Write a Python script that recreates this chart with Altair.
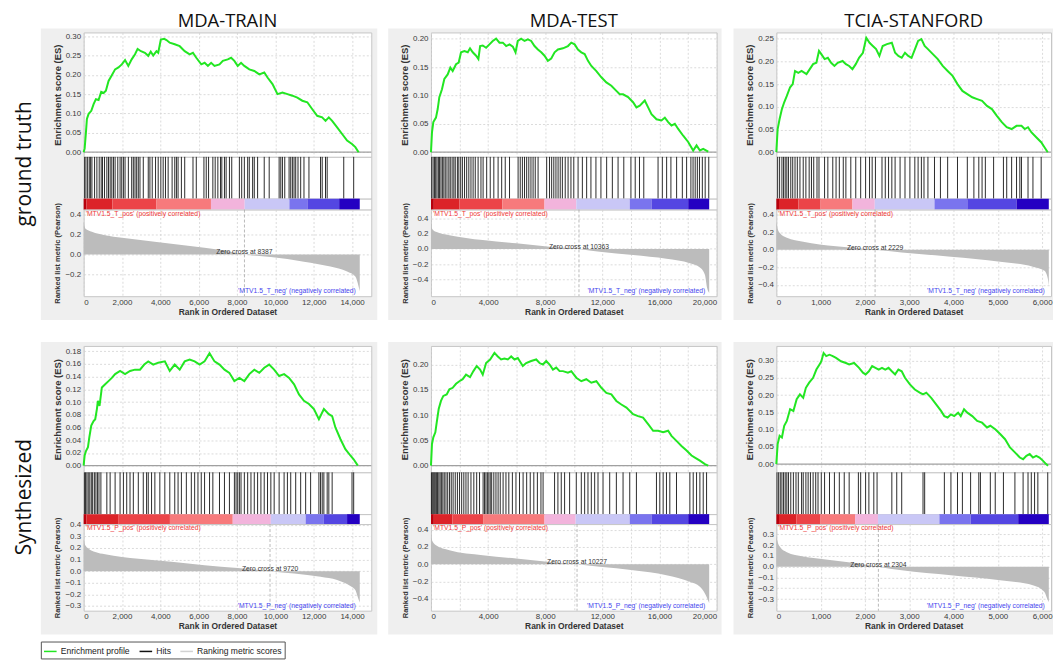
import altair as alt
import pandas as pd

# ------------------------------------------------------------------ data
COL_TITLES = ["MDA-TRAIN", "MDA-TEST", "TCIA-STANFORD"]
ROW_LABELS = ["ground truth", "Synthesized"]
GENE_SET_TAG = ["T", "P"]
N_RANKED = [14400, 19480, 6150]
ZERO_CROSS_R1 = [8387, 10363, 2229]
ZERO_CROSS_R2 = [9720, 10227, 2304]
LEGEND_LABELS = ["Enrichment profile", "Hits", "Ranking metric scores"]

# running enrichment score: (rank, ES)
ES_R1C1 = [(0, 0), (52, .009), (120, .051), (170, .086), (260, .099), (400, .107), (520, .124), (640, .137),
           (780, .135), (915, .156), (1040, .153), (1160, .159), (1300, .184), (1470, .199), (1640, .214),
           (1815, .219), (1990, .227), (2160, .238), (2330, .223), (2505, .240), (2680, .253), (2815, .267),
           (2990, .261), (3195, .257), (3370, .249), (3500, .260), (3630, .250), (3800, .261), (3890, .257),
           (4025, .291), (4200, .293), (4320, .290), (4490, .283), (4750, .279), (5010, .274), (5270, .261),
           (5530, .253), (5700, .257), (5875, .244), (6135, .227), (6310, .231), (6480, .223), (6650, .231),
           (6825, .223), (7085, .227), (7260, .236), (7515, .240), (7690, .244), (7860, .236), (8035, .223),
           (8210, .231), (8380, .223), (8640, .214), (8900, .210), (9160, .201), (9420, .206), (9590, .193),
           (9850, .176), (10110, .150), (10370, .154), (10630, .150), (10885, .146), (11145, .141),
           (11405, .133), (11665, .129), (11925, .111), (12180, .094), (12440, .090), (12615, .081),
           (12785, .090), (12960, .081), (13220, .064), (13480, .047), (13740, .030), (13995, .021),
           (14170, .013), (14340, 0)]
ES_R1C2 = [(0, 0), (70, .035), (165, .053), (350, .061), (470, .076), (585, .097), (770, .111), (935, .129),
           (1170, .137), (1355, .149), (1520, .143), (1755, .155), (1940, .158), (2105, .176), (2340, .178),
           (2575, .176), (2735, .183), (2925, .176), (3160, .170), (3320, .164), (3440, .187), (3625, .188),
           (3860, .184), (4095, .190), (4325, .196), (4560, .200), (4795, .193), (5030, .193), (5265, .187),
           (5500, .190), (5730, .186), (5920, .176), (6080, .196), (6315, .200), (6550, .196), (6785, .199),
           (7015, .196), (7250, .187), (7485, .181), (7720, .176), (7950, .170), (8185, .161), (8420, .165),
           (8655, .176), (8890, .181), (9240, .183), (9590, .187), (9825, .193), (10060, .190), (10290, .181),
           (10525, .176), (10760, .173), (10995, .161), (11230, .152), (11580, .143), (11930, .132),
           (12280, .123), (12630, .117), (12980, .108), (13215, .102), (13450, .102), (13800, .097),
           (14150, .088), (14385, .079), (14620, .082), (14970, .091), (15205, .079), (15440, .067),
           (15790, .058), (16140, .056), (16375, .061), (16610, .053), (16840, .047), (17075, .050),
           (17310, .041), (17660, .029), (18010, .018), (18360, .003), (18595, .012), (18830, .003),
           (19060, .006), (19415, .001)]
ES_R1C3 = [(0, 0), (30, .051), (74, .073), (126, .095), (178, .110), (237, .124), (311, .143), (370, .150),
           (422, .179), (496, .175), (570, .179), (681, .172), (755, .183), (830, .194), (904, .197),
           (963, .223), (1015, .216), (1090, .205), (1163, .208), (1237, .197), (1311, .190), (1385, .197),
           (1496, .201), (1570, .194), (1644, .190), (1718, .183), (1793, .194), (1867, .208), (1955, .219),
           (2030, .252), (2104, .241), (2178, .234), (2252, .227), (2326, .212), (2400, .234), (2496, .238),
           (2607, .241), (2681, .219), (2755, .212), (2830, .208), (2904, .219), (2978, .212), (3052, .208),
           (3140, .230), (3200, .245), (3274, .249), (3348, .234), (3422, .227), (3533, .216), (3644, .205),
           (3755, .190), (3867, .179), (3978, .168), (4089, .150), (4200, .135), (4311, .128), (4422, .121),
           (4533, .117), (4644, .113), (4755, .102), (4866, .095), (4978, .080), (5089, .066), (5200, .055),
           (5311, .051), (5422, .058), (5533, .058), (5607, .051), (5681, .055), (5755, .044), (5866, .033),
           (5978, .022), (6052, .011), (6126, 0)]
ES_R2C1 = [(0, 0), (52, .016), (121, .023), (225, .029), (294, .044), (397, .063), (518, .070), (605, .073),
           (691, .089), (743, .102), (829, .094), (950, .123), (1123, .128), (1296, .133), (1469, .138),
           (1642, .144), (1900, .149), (2160, .144), (2420, .149), (2680, .151), (2940, .151), (3160, .159),
           (3370, .164), (3630, .159), (3890, .162), (4235, .164), (4490, .149), (4750, .159), (5010, .151),
           (5270, .164), (5530, .167), (5790, .164), (6050, .159), (6305, .164), (6565, .177), (6825, .164),
           (7085, .159), (7345, .151), (7600, .146), (7860, .133), (8120, .138), (8380, .133), (8640, .144),
           (8900, .151), (9160, .146), (9420, .154), (9675, .159), (9935, .151), (10195, .141), (10455, .144),
           (10715, .138), (10975, .128), (11230, .112), (11490, .102), (11750, .097), (12010, .089),
           (12270, .073), (12530, .089), (12785, .081), (12960, .078), (13130, .060), (13390, .042),
           (13650, .026), (13910, .016), (14080, .010), (14300, 0)]
ES_R2C2 = [(0, 0), (70, .043), (165, .056), (305, .066), (400, .085), (540, .112), (700, .128), (865, .138),
           (1100, .141), (1290, .151), (1520, .154), (1755, .162), (1990, .167), (2220, .171), (2455, .180),
           (2735, .175), (2970, .187), (3205, .197), (3440, .190), (3625, .180), (3860, .203), (4140, .210),
           (4445, .223), (4680, .216), (4910, .210), (5145, .212), (5380, .210), (5615, .216), (5850, .210),
           (6080, .213), (6430, .197), (6665, .203), (7015, .207), (7370, .210), (7600, .203), (7835, .200),
           (8070, .207), (8305, .200), (8540, .190), (8770, .194), (9005, .187), (9240, .187), (9590, .184),
           (9825, .187), (10175, .174), (10525, .167), (10875, .171), (11225, .164), (11580, .167),
           (11930, .154), (12280, .144), (12630, .141), (12980, .128), (13330, .121), (13685, .115),
           (14150, .102), (14500, .098), (14850, .095), (15205, .082), (15555, .069), (15905, .069),
           (16255, .066), (16605, .069), (16840, .059), (17190, .049), (17540, .039), (17895, .030),
           (18245, .020), (18480, .016), (18830, .010), (19180, .003), (19415, 0)]
ES_R2C3 = [(0, 0), (30, .058), (74, .082), (126, .077), (178, .111), (237, .125), (311, .159), (385, .154),
           (459, .188), (533, .202), (607, .192), (667, .221), (741, .236), (830, .250), (904, .274),
           (978, .289), (1015, .298), (1067, .322), (1126, .313), (1200, .317), (1274, .313), (1348, .308),
           (1459, .298), (1570, .293), (1644, .289), (1755, .293), (1867, .279), (1955, .265), (2015, .260),
           (2089, .269), (2163, .284), (2237, .279), (2311, .274), (2385, .279), (2459, .274), (2533, .279),
           (2607, .269), (2681, .260), (2755, .274), (2830, .269), (2904, .250), (3015, .231), (3126, .216),
           (3237, .207), (3311, .202), (3385, .207), (3496, .192), (3607, .173), (3718, .154), (3792, .139),
           (3867, .135), (3941, .144), (4015, .139), (4104, .149), (4163, .139), (4237, .159), (4311, .149),
           (4422, .139), (4533, .125), (4644, .120), (4755, .106), (4830, .111), (4941, .101), (5052, .087),
           (5163, .072), (5274, .048), (5385, .034), (5496, .019), (5570, .014), (5644, .024), (5718, .029),
           (5792, .019), (5866, .024), (5940, .019), (6015, .010), (6089, 0), (6133, -.005)]

# ranked list metric: (rank, Pearson)
MET_R1C1 = [(0, .33), (86, .26), (430, .227), (1120, .193), (2000, .167), (3700, .127), (5440, .087),
            (7170, .043), (8387, 0), (9760, -.027), (11490, -.073), (12870, -.123), (13740, -.173),
            (14170, -.223), (14340, -.323), (14400, -.37)]
MET_R1C2 = [(0, .38), (70, .27), (350, .225), (1290, .18), (3625, .116), (5965, .073), (8300, .028),
            (10363, 0), (11810, -.037), (14150, -.08), (16490, -.13), (18130, -.19), (18830, -.245),
            (19180, -.34), (19340, -.52), (19480, -.58)]
MET_R1C3 = [(0, .325), (30, .24), (89, .185), (237, .136), (607, .09), (978, .06), (1718, .023), (2229, 0),
            (2830, -.03), (3940, -.08), (5050, -.136), (5790, -.192), (6052, -.24), (6126, -.325),
            (6150, -.41)]
MET_R2C1 = [(0, .28), (86, .223), (260, .194), (605, .166), (1120, .146), (2000, .123), (3715, .094),
            (5445, .066), (7170, .037), (8900, .014), (9720, 0), (10975, -.02), (12355, -.049),
            (13220, -.077), (13910, -.129), (14170, -.163), (14290, -.22), (14400, -.27)]
MET_R2C2 = [(0, .348), (70, .278), (350, .22), (1290, .162), (3625, .104), (5965, .066), (8300, .027),
            (10227, 0), (11810, -.031), (14150, -.07), (16490, -.128), (18130, -.205), (18830, -.263),
            (19180, -.34), (19480, -.45)]
MET_R2C3 = [(0, .29), (30, .228), (89, .18), (237, .135), (607, .095), (978, .074), (1718, .037), (2304, 0),
            (2830, -.034), (3940, -.08), (5050, -.126), (5790, -.172), (6052, -.234), (6126, -.31),
            (6150, -.33)]

# positions (ranks) of the gene-set hits
HITS_R1C1 = [52, 121, 208, 294, 363, 432, 570, 691, 812, 916, 985, 1089, 1210, 1296, 1383, 1469, 1555, 1642,
             1780, 1901, 1987, 2074, 2160, 2333, 2506, 2592, 2679, 2765, 2851, 2938, 3111, 3370, 3456, 3577,
             3750, 3888, 4026, 4147, 4268, 4407, 4614, 4752, 4839, 4925, 5098, 5271, 5703, 5875, 6273, 6394,
             6515, 6739, 6860, 6999, 7137, 7206, 7344, 7431, 7604, 7724, 8122, 8243, 8381, 8554, 8640, 8813,
             8900, 9072, 9418, 9677, 10195, 10282, 10368, 10489, 10714, 10800, 10887, 10973, 11059, 11180,
             11319, 11491, 11750, 12355, 12442, 12614, 12701, 13565, 14083]
HITS_R1C2 = [50, 150, 250, 330, 420, 520, 600, 700, 800, 900, 1000, 1120, 1250, 1350, 1480, 1600, 1700, 1850,
             1950, 2080, 2200, 2350, 2500, 2650, 2800, 2950, 3100, 3300, 3500, 3650, 3900, 4150, 4400, 4700,
             4950, 5200, 5500, 6100, 6250, 6400, 6550, 6700, 6850, 7000, 7150, 7300, 7500, 8100, 8300, 8450,
             8600, 8750, 8900, 9050, 9200, 9400, 9600, 9800, 10000, 10300, 10600, 10900, 11200, 11550, 11900,
             12300, 12700, 13100, 13500, 14000, 14300, 14600, 14900, 15900, 16200, 16500, 16800, 17200,
             17600, 17900, 18200, 18350, 18500, 18650, 18800, 19000, 19200, 19450]
HITS_R1C3 = [30, 74, 126, 163, 200, 237, 274, 326, 370, 422, 474, 533, 607, 667, 741, 793, 844, 918, 963,
             1089, 1163, 1274, 1348, 1422, 1511, 1570, 1681, 1793, 1904, 2015, 2104, 2163, 2237, 2385, 2459,
             2533, 2607, 2681, 2793, 2904, 3015, 3126, 3200, 3274, 3333, 3422, 3570, 3704, 3867, 4089, 4311,
             4459, 4570, 4644, 4718, 4904, 5126, 5200, 5311, 5422, 5496, 5533, 5681, 5792, 5978]
HITS_R2C1 = [40, 100, 170, 240, 320, 400, 470, 560, 640, 720, 800, 900, 1210, 1382, 1642, 1900, 2074, 2246,
             2419, 2592, 2851, 3110, 3283, 3370, 3542, 3715, 3974, 4234, 4493, 4752, 4925, 5098, 5357, 5616,
             5789, 5962, 6134, 6307, 6566, 6739, 7085, 7344, 7603, 7862, 7949, 8035, 8122, 8208, 8381, 8554,
             8726, 8899, 9072, 9245, 9418, 9590, 9763, 9936, 10195, 10454, 10627, 10800, 11059, 11318,
             11578, 11837, 12269, 12355, 12442, 12528, 12701, 12787, 12960, 13997, 14083]
HITS_R2C2 = [30, 90, 160, 230, 300, 380, 460, 550, 640, 730, 830, 930, 1050, 1170, 1300, 1420, 1550, 1700,
             1850, 2000, 2150, 2300, 2450, 2600, 2800, 3000, 3200, 3400, 3650, 3750, 3850, 3950, 4050, 4150,
             4250, 4400, 4550, 4700, 4850, 5050, 5250, 5450, 5700, 5950, 6200, 6450, 6700, 6950, 7200, 7450,
             7700, 7850, 8654, 8888, 9122, 9356, 9707, 10175, 10526, 10760, 10993, 11227, 11461, 11695,
             12046, 12514, 12981, 13449, 13917, 14385, 15788, 16022, 16256, 16490, 16724, 17191, 18127,
             18361, 18595, 18829, 19063, 19297]
HITS_R2C3 = [15, 52, 89, 126, 163, 200, 237, 274, 326, 385, 444, 496, 570, 607, 667, 718, 770, 830, 889,
             941, 1015, 1089, 1200, 1311, 1422, 1533, 1644, 1852, 1904, 2015, 2089, 2200, 2274, 2607, 2718,
             2830, 3311, 3348, 3793, 3941, 4089, 4200, 4385, 4570, 4607, 4830, 4941, 5126, 5385, 5570, 5681,
             5755, 5829, 5903, 6126]

# rank positions where the heat-map colour band changes (9 bands, red -> blue)
BANDS_R1C1 = [0, 150, 1500, 3800, 6640, 8400, 10730, 11670, 13325, 14400]
BANDS_R1C2 = [0, 200, 2000, 5000, 7950, 10175, 13920, 15440, 18010, 19480]
BANDS_R1C3 = [0, 60, 500, 1000, 1718, 2222, 3570, 4311, 5422, 6150]
BANDS_R2C1 = [0, 150, 1800, 4500, 7776, 9763, 11578, 12528, 13738, 14400]
BANDS_R2C2 = [0, 200, 1500, 3650, 7950, 10130, 13917, 15437, 18010, 19480]
BANDS_R2C3 = [0, 60, 450, 1000, 1778, 2296, 3681, 4385, 5459, 6150]

ES = [[ES_R1C1, ES_R1C2, ES_R1C3], [ES_R2C1, ES_R2C2, ES_R2C3]]
MET = [[MET_R1C1, MET_R1C2, MET_R1C3], [MET_R2C1, MET_R2C2, MET_R2C3]]
HITS = [[HITS_R1C1, HITS_R1C2, HITS_R1C3], [HITS_R2C1, HITS_R2C2, HITS_R2C3]]
BANDS = [[BANDS_R1C1, BANDS_R1C2, BANDS_R1C3], [BANDS_R2C1, BANDS_R2C2, BANDS_R2C3]]
ZERO_CROSS = [ZERO_CROSS_R1, ZERO_CROSS_R2]

# ------------------------------------------------------------------ style / layout
FONT = "Liberation Sans"
TITLE_FONT = "Open Sans"
GREEN = "#22e622"
LEGEND_COLORS = [GREEN, "#111111", "#d2d2d2"]
BAND_COLORS = ["#b8000c", "#dc2328", "#ec4448", "#f77a7c", "#f2b4dc",
               "#c9c7f6", "#7a74ee", "#5446e2", "#2400c2"]
PANEL_BG = "#efefef"

X_MAX = [15000, 20000, 6200]
X_TICK_MAX = [14000, 20000, 6000]
X_STEP = [2000, 2000, 1000]
PLOT_W = [289, 287, 276]
BG_RIGHT = [6, 5, 2]
SP = 60
LW = 5
ES_H = [125, 127]
HIT_H = [42, 42]
BAR_H = [11, 10]
MET_H = [87, 87]
GAP = 50
ES_DOM = [[(-0.0121, 0.3095), (-0.0082, 0.211), (-0.0103, 0.2638)],
          [(-0.0105, 0.1883), (-0.0132, 0.2368), (-0.024, 0.3424)]]
ES_TICK = [[(0.30, 0.05), (0.20, 0.05), (0.25, 0.05)],
           [(0.18, 0.02), (0.20, 0.05), (0.30, 0.05)]]
MET_DOM = [[(-0.42, 0.45), (-0.623, 0.518), (-0.528, 0.457)],
           [(-0.341, 0.406), (-0.54, 0.466), (-0.408, 0.395)]]
MET_TICK = [[(-0.2, 0.4, 0.2), (-0.4, 0.4, 0.2), (-0.4, 0.4, 0.2)],
            [(-0.3, 0.4, 0.1), (-0.4, 0.4, 0.2), (-0.3, 0.3, 0.1)]]
LABEL_X = 12
LABEL_Y = [132, 152]
LEG_X, LEG_Y = 22, 612


def steps(lo, hi, st):
    n = int(round((hi - lo) / st))
    return [round(lo + i * st, 3) for i in range(n + 1)]


def mk_axis(**kw):
    d = dict(labelFont=FONT, labelFontSize=8, labelColor="#3a3a3a", titleFont=FONT,
             titleFontWeight="bold", titleColor="#333333", domain=False, ticks=False,
             grid=True, gridColor="#d2d2d2", gridDash=[2, 2], gridWidth=0.8,
             labelPadding=3, titlePadding=3)
    d.update(kw)
    return alt.Axis(**d)


def x_scale(c):
    return alt.Scale(domain=[0, X_MAX[c]], nice=False, zero=False)


NOVIEW = alt.ViewBackground(fill="transparent", stroke="transparent")


def blank(w, h):
    return (alt.Chart(pd.DataFrame({"a": [0]})).mark_point(opacity=0, size=1)
            .encode(x=alt.value(0), y=alt.value(0))
            .properties(width=w, height=h, view=NOVIEW))


def plot_left_rel(c):
    return LW + SP + sum(PLOT_W[:c]) + c * SP


def label_chart(r):
    total_h = ES_H[r] + HIT_H[r] + BAR_H[r] + MET_H[r]
    one = pd.DataFrame({"a": [0]})
    layers = []
    for c in range(3):
        left = plot_left_rel(c)
        layers.append(alt.Chart(one).mark_rect(color=PANEL_BG).encode(
            x=alt.value(left - 43), x2=alt.value(left + PLOT_W[c] + BG_RIGHT[c]),
            y=alt.value(-4), y2=alt.value(total_h + 24)))
    txt = alt.Chart(pd.DataFrame({"t": [ROW_LABELS[r]]})).mark_text(
        angle=270, font=TITLE_FONT, fontSize=21, align="center", baseline="alphabetic",
        color="#111111").encode(text="t:N", x=alt.value(LABEL_X), y=alt.value(LABEL_Y[r]))
    layers.append(txt)
    return alt.layer(*layers).properties(width=LW, height=ES_H[r], view=NOVIEW)


def es_chart(r, c):
    pts = ES[r][c]
    df = pd.DataFrame({"rank": [p[0] for p in pts], "es": [p[1] for p in pts],
                       "series": LEGEND_LABELS[0]})
    xs = x_scale(c)
    ys = alt.Scale(domain=list(ES_DOM[r][c]), nice=False, zero=False)
    xa = mk_axis(values=steps(0, X_TICK_MAX[c], X_STEP[c]), labels=False, title=None)
    top, st = ES_TICK[r][c]
    ya = mk_axis(values=steps(0, top, st), format=".2f", title="Enrichment score (ES)",
                 titleFontSize=9.5)
    zero = alt.Chart(pd.DataFrame({"z": [0.0]})).mark_rule(color="#a0a0a0", strokeWidth=1.3).encode(
        y=alt.Y("z:Q", scale=ys, axis=ya))
    if r == 1 and c == 0:
        line = alt.Chart(df).mark_line(strokeWidth=2).encode(
            x=alt.X("rank:Q", scale=xs, axis=xa), y=alt.Y("es:Q", scale=ys, axis=ya),
            color=alt.Color("series:N",
                            scale=alt.Scale(domain=LEGEND_LABELS, range=LEGEND_COLORS),
                            legend=alt.Legend(title=None, orient="none", legendX=LEG_X, legendY=LEG_Y,
                                              direction="horizontal", symbolType="stroke",
                                              symbolStrokeWidth=1.5, symbolSize=160,
                                              labelFont=FONT, labelFontSize=8.6, labelColor="#222222",
                                              strokeColor="#555555", fillColor="white", padding=2,
                                              columnPadding=6, labelOffset=3)))
    else:
        line = alt.Chart(df).mark_line(strokeWidth=2, color=GREEN).encode(
            x=alt.X("rank:Q", scale=xs, axis=xa), y=alt.Y("es:Q", scale=ys, axis=ya))
    ch = alt.layer(zero, line).properties(width=PLOT_W[c], height=ES_H[r])
    if r == 0:
        ch = ch.properties(title=alt.TitleParams(COL_TITLES[c], font=TITLE_FONT, fontSize=18.5,
                                                 fontWeight="normal", color="#111111", offset=1.5,
                                                 anchor="middle"))
    return ch


def hits_chart(r, c):
    df = pd.DataFrame({"rank": HITS[r][c]})
    return (alt.Chart(df).mark_rule(color="#141414", strokeWidth=1, opacity=0.9)
            .encode(x=alt.X("rank:Q", scale=x_scale(c), axis=None))
            .properties(width=PLOT_W[c], height=HIT_H[r]))


def bar_chart(r, c):
    e = BANDS[r][c]
    df = pd.DataFrame({"start": e[:-1], "end": e[1:], "level": list(range(len(e) - 1))})
    return (alt.Chart(df).mark_rect()
            .encode(x=alt.X("start:Q", scale=x_scale(c), axis=None), x2="end:Q",
                    fill=alt.Fill("level:O", scale=alt.Scale(domain=list(range(9)), range=BAND_COLORS),
                                  legend=None))
            .properties(width=PLOT_W[c], height=BAR_H[r]))


def met_chart(r, c):
    pts = MET[r][c]
    df = pd.DataFrame({"rank": [p[0] for p in pts], "v": [p[1] for p in pts], "zero": 0.0})
    xs = x_scale(c)
    ys = alt.Scale(domain=list(MET_DOM[r][c]), nice=False, zero=False)
    xa = mk_axis(values=steps(0, X_TICK_MAX[c], X_STEP[c]), format=",d",
                 title="Rank in Ordered Dataset", titleFontSize=8.5, labelPadding=2, titlePadding=1)
    lo, hi, st = MET_TICK[r][c]
    ya = mk_axis(values=steps(lo, hi, st), format=".1f", title="Ranked list metric (Pearson)",
                 titleFontSize=7.5)
    area = alt.Chart(df).mark_area(color="#bcbcbc", interpolate="monotone").encode(
        x=alt.X("rank:Q", scale=xs, axis=xa), y=alt.Y("v:Q", scale=ys, axis=ya), y2="zero:Q")
    zc = ZERO_CROSS[r][c]
    zdf = pd.DataFrame({"zc": [zc], "y0": [0.0], "t": ["Zero cross at %d" % zc]})
    zrule = alt.Chart(zdf).mark_rule(color="#a8a8a8", strokeDash=[3, 2], strokeWidth=0.8).encode(
        x=alt.X("zc:Q", scale=xs, axis=xa))
    ztext = alt.Chart(zdf).mark_text(font=FONT, fontSize=6.8, color="#333333", align="center",
                                     baseline="bottom", dy=1).encode(
        x=alt.X("zc:Q", scale=xs, axis=xa), y=alt.Y("y0:Q", scale=ys, axis=ya), text="t:N")
    tag = GENE_SET_TAG[r]
    pdf = pd.DataFrame({"t": ["'MTV1.5_%s_pos' (positively correlated)" % tag]})
    pos = alt.Chart(pdf).mark_text(font=FONT, fontSize=6.8, color="#ee3838", align="left",
                                   baseline="top").encode(x=alt.value(2), y=alt.value(1), text="t:N")
    ndf = pd.DataFrame({"n": [N_RANKED[c]], "t": ["'MTV1.5_%s_neg' (negatively correlated)" % tag]})
    neg = alt.Chart(ndf).mark_text(font=FONT, fontSize=6.8, color="#4646ee", align="right",
                                   baseline="bottom", dx=-4).encode(
        x=alt.X("n:Q", scale=xs, axis=xa), y=alt.value(MET_H[r] - 2), text="t:N")
    return alt.layer(area, zrule, ztext, pos, neg).properties(width=PLOT_W[c], height=MET_H[r])


cells = []
for r in range(2):
    cells += [label_chart(r)] + [es_chart(r, c) for c in range(3)]
    cells += [blank(LW, HIT_H[r])] + [hits_chart(r, c) for c in range(3)]
    cells += [blank(LW, BAR_H[r])] + [bar_chart(r, c) for c in range(3)]
    cells += [blank(LW, MET_H[r])] + [met_chart(r, c) for c in range(3)]
    if r == 0:
        cells += [blank(LW, GAP)] + [blank(1, GAP) for _ in range(3)]

chart = (alt.concat(*cells, columns=4, spacing={"row": 0, "column": SP}, bounds="flush", align="each")
         .properties(padding={"left": 5, "top": 2, "right": 0, "bottom": 0}, background="white")
         .configure_view(fill="white", stroke="#c6c6c6", strokeWidth=1))

chart.save("out.html", embed_options={"renderer": "svg", "actions": False})
